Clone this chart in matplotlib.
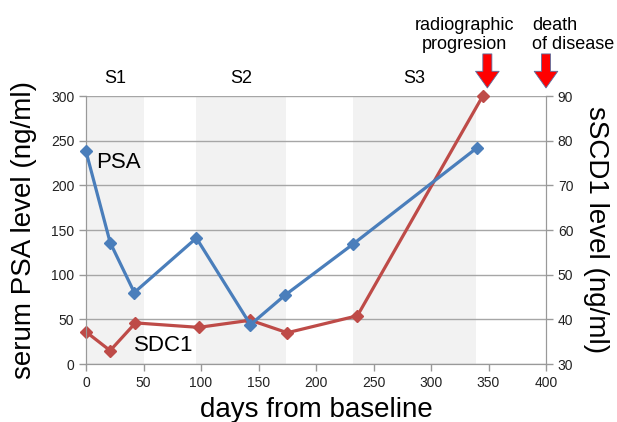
import matplotlib
matplotlib.use("Agg")
import matplotlib.pyplot as plt

plt.rcParams['font.family'] = ['Liberation Sans', 'DejaVu Sans']

# data
psa_days = [0, 21, 42, 96, 143, 173, 232, 340]
psa_vals = [238, 136, 80, 141, 44, 77, 134, 242]
sdc1_days = [0, 21, 43, 98, 143, 175, 236, 345]
sdc1_vals = [37.2, 33.0, 39.2, 38.2, 39.8, 37.0, 40.8, 90.0]
stages = ["S1", "S2", "S3"]
stage_spans = [(0, 50), (96, 174), (232, 339)]
event_labels = ["radiographic\nprogresion", "death\nof disease"]
event_days = [349, 400]

blue = "#4A7EBB"
red = "#BE4B48"
gray = "#999999"

fig = plt.figure(figsize=(6.17, 4.22), dpi=100)
ax = fig.add_axes([86/617, 1-364/422, 460/617, 268/422])
ax2 = ax.twinx()

# ax2 below, ax on top
ax.set_zorder(ax2.get_zorder() + 1)
ax.patch.set_visible(False)

for (a, b) in stage_spans:
    ax2.axvspan(a, b, color="#f2f2f2", zorder=0, lw=0)

ax.set_xlim(0, 400)
ax.set_ylim(0, 300)
ax2.set_ylim(30, 90)
ax.set_xticks(range(0, 401, 50))
ax.set_yticks(range(0, 301, 50))
ax2.set_yticks(range(30, 91, 10))

ax2.grid(axis='y', color="#a6a6a6", lw=1.0, zorder=0.5)
ax2.set_axisbelow(True)

ax2.plot(sdc1_days, sdc1_vals, color=red, lw=2.3, marker='D', ms=6, zorder=3,
         clip_on=False)
ax.plot(psa_days, psa_vals, color=blue, lw=2.3, marker='D', ms=6, zorder=3,
        clip_on=False)

for a_ in (ax, ax2):
    for s in a_.spines.values():
        s.set_color(gray)
    a_.spines['top'].set_visible(False)
    a_.tick_params(colors=gray, labelcolor="#222222", labelsize=10, length=5, width=1)

ax.set_ylabel("serum PSA level (ng/ml)", fontsize=20, labelpad=10)
ax2.set_ylabel("sSCD1 level (ng/ml)", fontsize=20, rotation=270, labelpad=26)
ax.set_xlabel("days from baseline", fontsize=20, labelpad=5)

ax.text(9, 226, "PSA", fontsize=16, va='center', ha='left')
ax.text(42, 21, "SDC1", fontsize=16, va='center', ha='left')

trans = ax.get_xaxis_transform()
for name, (a, b) in zip(stages, stage_spans):
    ax.text((a + b) / 2, 1.067, name, transform=trans, fontsize=13,
            ha='center', va='center')

# event annotations
ax.text(329, 1.16, event_labels[0], transform=trans, fontsize=13,
        ha='center', va='bottom', linespacing=1.15)
ax.text(388, 1.16, event_labels[1], transform=trans, fontsize=13,
        ha='left', va='bottom', linespacing=1.15)
for d in event_days:
    ax.annotate('', xy=(d, 1.03), xytext=(d, 1.157),
                xycoords=trans, textcoords=trans,
                arrowprops=dict(facecolor='#ff0000', edgecolor='#5a6fa0', lw=0.6,
                                width=6.5, headwidth=17, headlength=12, shrink=0),
                annotation_clip=False)

fig.savefig("out.png", dpi=100)
